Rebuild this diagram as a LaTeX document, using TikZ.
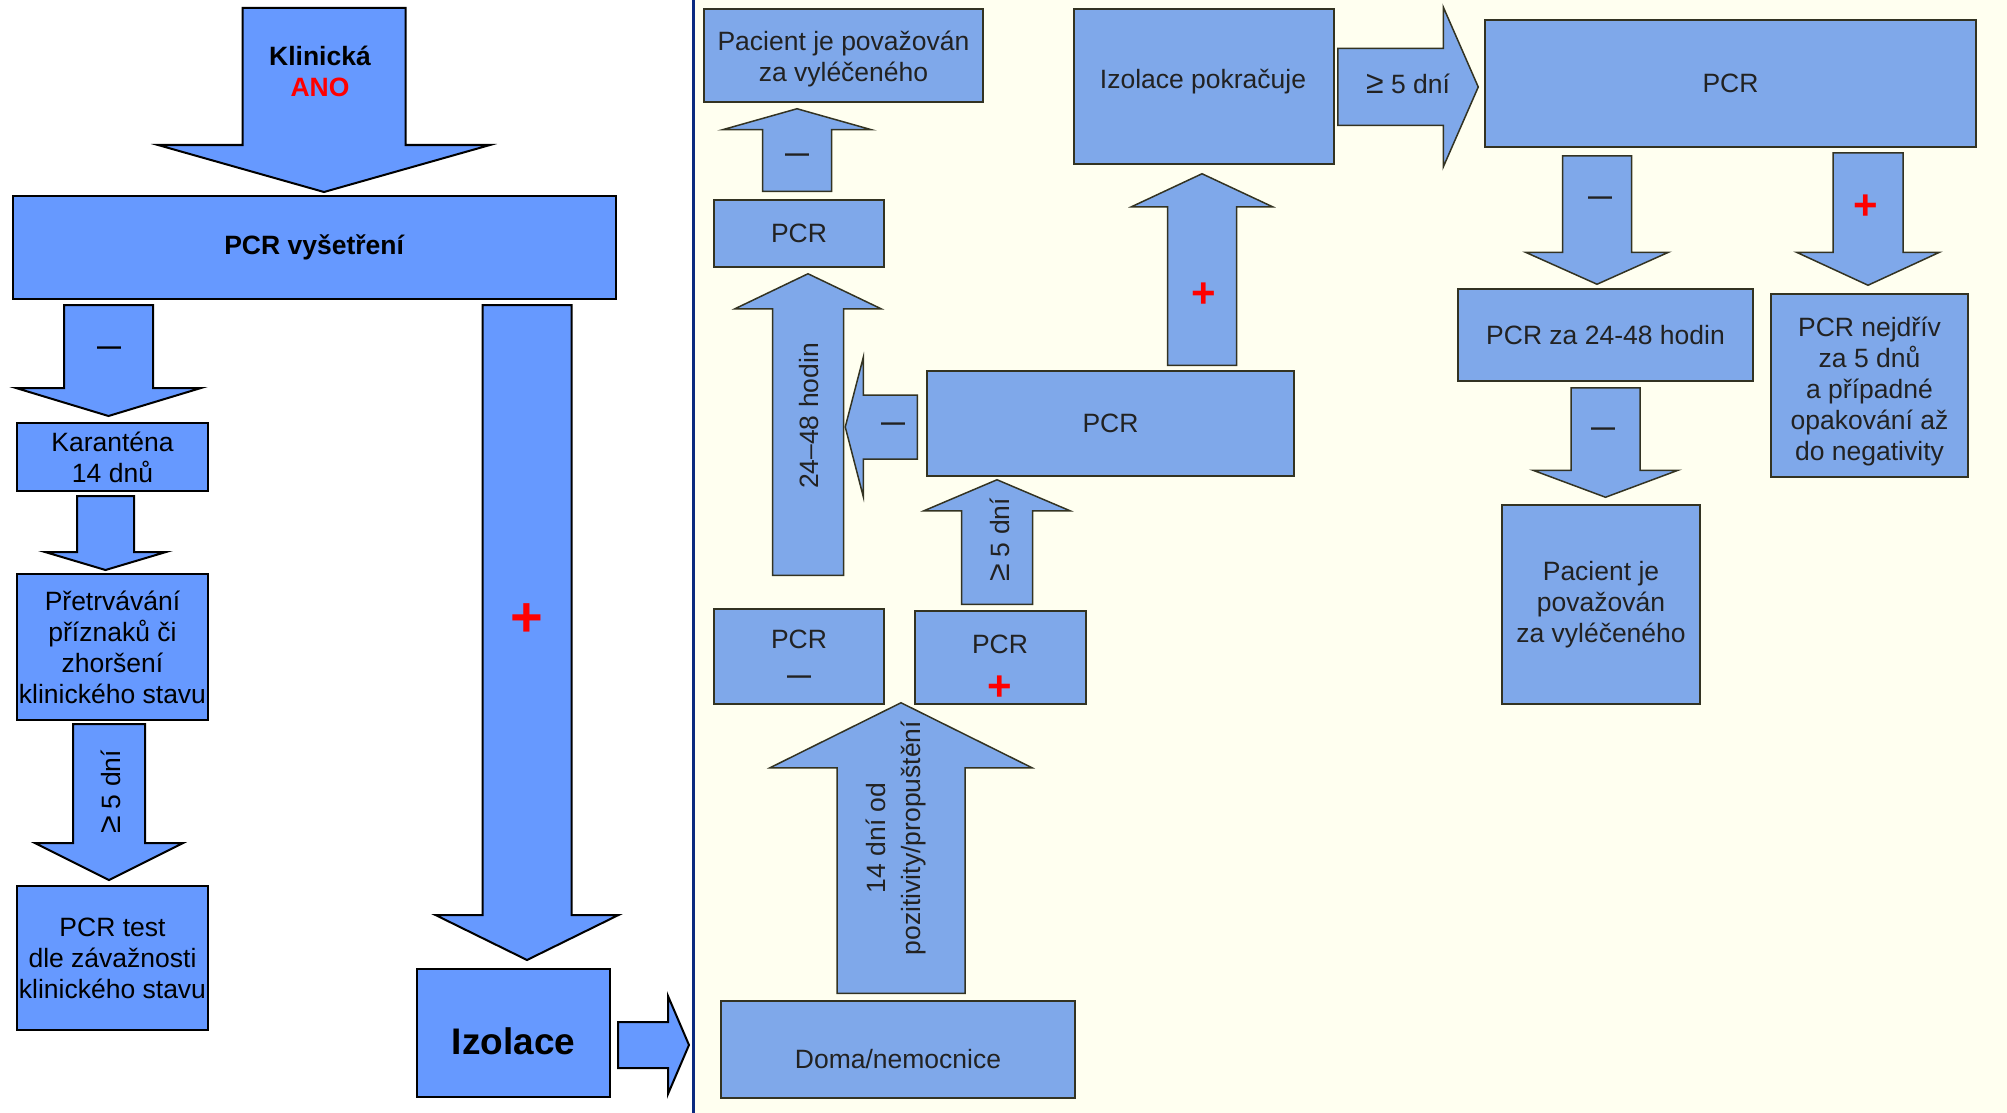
\documentclass[tikz,border=0pt]{standalone}
\usepackage{fontspec}
\setmainfont{Liberation Sans}
\usetikzlibrary{calc}

\definecolor{lblue}{HTML}{6699FF}
\definecolor{rblue}{HTML}{7FA8EA}
\definecolor{rline}{HTML}{333322}
\definecolor{rtext}{HTML}{222222}
\definecolor{panelbg}{HTML}{FFFFF0}
\definecolor{sepline}{HTML}{0B2A7F}

% block arrow: tail, tip, shaft width, head width, head length
\newcommand{\fatarrow}[6][]{%
  \draw[#1] let \p1=#2, \p2=#3, \n1={atan2(\y2-\y1,\x2-\x1)}, \n2={veclen(\x2-\x1,\y2-\y1)} in
    [shift={(\p1)}, rotate=\n1]
    (0pt,#4pt/2) -- (\n2-#6pt,#4pt/2) -- (\n2-#6pt,#5pt/2) -- (\n2,0pt)
    -- (\n2-#6pt,-#5pt/2) -- (\n2-#6pt,-#4pt/2) -- (0pt,-#4pt/2) -- cycle;}
\newcommand{\mns}{{\fontsize{24}{24}\selectfont\textbf{—}}}
\newcommand{\pls}[1][42]{{\color{red}\fontsize{#1}{#1}\selectfont\textbf{+}}}
\newcommand{\fivedays}{{\fontsize{32}{32}\selectfont ≥} 5 dní}

\tikzset{
  lbox/.style={draw=black, fill=lblue, line width=2pt, inner sep=0pt, align=center, text=black},
  rbox/.style={draw=rline, fill=rblue, line width=1.5pt, inner sep=0pt, align=center, text=rtext},
  larr/.style={draw=black, fill=lblue, line width=2pt},
  rarr/.style={draw=rline, fill=rblue, line width=1.5pt},
  rlab/.style={text=rtext, align=center},
}

\begin{document}
\begin{tikzpicture}[x=1pt, y=1pt, font=\fontsize{26.5}{31}\selectfont]
    \useasboundingbox (0,0) rectangle (2007,-1113);

    % Right panel
    \fill[panelbg] (693,0) rectangle (2007,-1113);
    \draw[sepline, line width=3pt] (693,0) -- (693,-1113);

    % Left boxes
    \node[lbox, minimum width=603pt, minimum height=103pt] (pcr) at (314.5,-247.5) {\textbf{PCR vyšetření}};
    \node[lbox, minimum width=191pt, minimum height=68pt] (kar) at (112.5,-457) {Karanténa\\14 dnů};
    \node[lbox, minimum width=191pt, minimum height=146pt] (pretr) at (112.5,-647) {Přetrvávání\\příznaků či\\zhoršení\\klinického stavu};
    \node[lbox, minimum width=191pt, minimum height=144pt] (test) at (112.5,-958) {PCR test\\dle závažnosti\\klinického stavu};
    \node[lbox, minimum width=193pt, minimum height=128pt] (izol) at (513.5,-1033) {};
    \node[font=\fontsize{37}{37}\selectfont\bfseries] (tizol) at (513.5,-1041) {Izolace};

    % Left arrows
    \fatarrow[larr]{(324,-8)}{($(pcr.north)+(9.5,3)$)}{163}{332}{47}
    \node[align=center] (klin) at (320,-71) {\textbf{Klinická}\\\textcolor{red}{\textbf{ANO}}};
    \fatarrow[larr]{($(kar.north |- pcr.south)+(-4,-5)$)}{($(kar.north)+(-4,6)$)}{89}{185}{28}
    \node (m1) at (109,-351) {\mns};
    \fatarrow[larr]{($(kar.south)+(-7,-4)$)}{($(pretr.north)+(-7,3)$)}{57}{121}{18}
    \fatarrow[larr]{($(pretr.south)+(-3.5,-3)$)}{($(test.north)+(-3.5,5)$)}{72}{148}{37}
    \node[rotate=90] (d1) at (111,-792) {\fivedays};
    \fatarrow[larr]{($(izol.north |- pcr.south)+(13.5,-5)$)}{($(izol.north)+(13.5,8)$)}{89}{183}{45}
    \node (p1) at (527,-620) {\pls[56]};
    \fatarrow[larr]{($(izol.east)+(7,-12)$)}{($(izol.east)+(78,-12)$)}{46}{98}{21}

    % Right boxes
    \node[rbox, minimum width=279pt, minimum height=93pt] (pac1) at (843.5,-55.5) {};
    \node[rlab] (tpac1) at (843.5,-59) {Pacient je považován\\za vyléčeného};
    \node[rbox, minimum width=170pt, minimum height=67pt] (pcr1) at (799,-233.5) {PCR};
    \node[rbox, minimum width=367pt, minimum height=105pt] (pcrmid) at (1110.5,-423.5) {PCR};
    \node[rbox, minimum width=260pt, minimum height=155pt] (izpok) at (1204,-86.5) {};
    \node[rlab] (tizpok) at (1203,-82) {Izolace pokračuje};
    \node[rbox, minimum width=170pt, minimum height=95pt] (pcrneg) at (799,-656.5) {PCR\\[4pt]\mns};
    \node[rbox, minimum width=171pt, minimum height=93pt] (pcrpos) at (1000.5,-657.5) {};
    \node[rlab] (tpos) at (1000,-644) {PCR};
    \node (p4) at (1000,-688) {\pls};
    \node[rbox, minimum width=354pt, minimum height=97pt] (doma) at (898,-1049.5) {};
    \node[rlab] (tdoma) at (898,-1059) {Doma/nemocnice};
    \node[rbox, minimum width=491pt, minimum height=127pt] (pcrtop) at (1730.5,-83.5) {PCR};
    \node[rbox, minimum width=295pt, minimum height=92pt] (p2448) at (1605.5,-335) {PCR za 24-48 hodin};
    \node[rbox, minimum width=197pt, minimum height=183pt] (pcrnej) at (1869.5,-385.5) {};
    \node[rlab] (tnej) at (1869.5,-391) {PCR nejdřív\\za 5 dnů\\a případné\\opakování až\\do negativity};
    \node[rbox, minimum width=198pt, minimum height=199pt] (pac2) at (1601,-604.5) {Pacient je\\považován\\za vyléčeného};

    % Right arrows
    \fatarrow[rarr]{($(doma.north)+(3,7)$)}{($(doma.north |- pcrneg.south)+(3,2)$)}{128}{262}{65}
    \node[rlab, rotate=90, font=\fontsize{26.5}{35}\selectfont] (t14) at (896,-838) {14 dní od\\pozitivity/propuštění};
    \fatarrow[rarr]{($(pcrpos.north)+(-3.5,6)$)}{($(pcrpos.north |- pcrmid.south)+(-3.5,-3)$)}{71}{146}{31}
    \node[rlab, rotate=90] (d2) at (1000,-540) {\fivedays};
    \fatarrow[rarr]{($(pcrmid.west)+(-9,-3.5)$)}{($(pcrmid.west)+(-81,-3.5)$)}{64}{139}{18}
    \node[rlab] (m2) at (893,-427) {\mns};
    \fatarrow[rarr]{($(pcrneg.north)+(9,33)$)}{($(pcr1.south)+(9,-6)$)}{71}{146}{35}
    \node[rlab, rotate=90] (h1) at (809,-416) {24–48 hodin};
    \fatarrow[rarr]{($(pcr1.north)+(-2,8)$)}{($(pcr1.north |- pac1.south)+(-2,-6)$)}{69}{149}{21}
    \node[rlab] (m3) at (797,-158) {\mns};
    \fatarrow[rarr]{($(izpok.south |- pcrmid.north)+(-2,5)$)}{($(izpok.south)+(-2,-9)$)}{69}{141}{33}
    \node (p2) at (1204,-295) {\pls};
    \fatarrow[rarr]{($(izpok.east)+(3,-0.5)$)}{($(pcrtop.west)+(-6,-3.5)$)}{77}{160}{35}
    \node[rlab] (d3) at (1408,-84) {\fivedays};
    \fatarrow[rarr]{($(p2448.north |- pcrtop.south)+(-8.5,-8)$)}{($(p2448.north)+(-8.5,4)$)}{69}{143}{32}
    \node[rlab] (m4) at (1600,-201) {\mns};
    \fatarrow[rarr]{($(pcrnej.north |- pcrtop.south)+(-1.5,-5)$)}{($(pcrnej.north)+(-1.5,8)$)}{70}{143}{33}
    \node (p3) at (1866,-207) {\pls};
    \fatarrow[rarr]{($(p2448.south)+(0,-6)$)}{($(p2448.south |- pac2.north)+(0,7)$)}{69}{145}{27}
    \node[rlab] (m5) at (1603,-432) {\mns};
\end{tikzpicture}
\end{document}
